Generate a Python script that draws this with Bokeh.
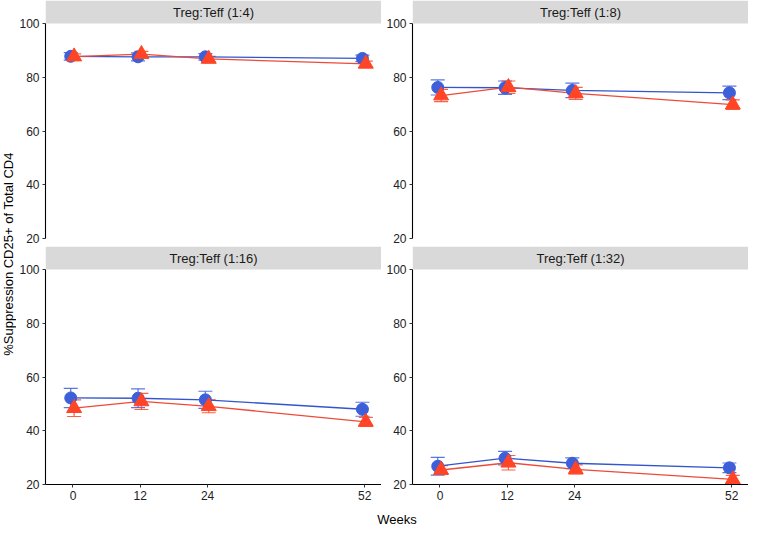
from bokeh.plotting import figure
from bokeh.models import Range1d, ColumnDataSource, Whisker, TeeHead, FixedTicker
from bokeh.layouts import row, column
from bokeh.core.properties import value
from bokeh.embed import file_html
from bokeh.resources import INLINE

# ---------------- data ----------------
weeks = [0, 12, 24, 52]
x_ticks = [0, 12, 24, 52]
y_ticks = [20, 40, 60, 80, 100]
panel_titles = ["Treg:Teff (1:4)", "Treg:Teff (1:8)", "Treg:Teff (1:16)", "Treg:Teff (1:32)"]

blue_mean_1_4 = [87.8, 87.6, 87.6, 87.0]
blue_err_1_4 = [1.4, 1.5, 1.2, 1.2]
red_mean_1_4 = [87.7, 88.6, 86.8, 85.0]
red_err_1_4 = [1.0, 1.0, 1.0, 1.0]

blue_mean_1_8 = [76.2, 76.1, 75.1, 74.2]
blue_err_1_8 = [2.8, 2.5, 2.7, 2.5]
red_mean_1_8 = [73.2, 76.3, 74.0, 69.8]
red_err_1_8 = [2.3, 2.3, 2.2, 1.8]

blue_mean_1_16 = [52.2, 52.1, 51.5, 48.0]
blue_err_1_16 = [3.6, 3.5, 3.2, 2.6]
red_mean_1_16 = [48.4, 50.9, 49.1, 43.3]
red_err_1_16 = [3.1, 3.0, 2.4, 1.7]

blue_mean_1_32 = [26.8, 29.8, 27.9, 26.2]
blue_err_1_32 = [3.3, 2.5, 2.0, 1.8]
red_mean_1_32 = [25.4, 28.1, 25.6, 21.9]
red_err_1_32 = [1.6, 2.7, 1.7, 1.5]

blue_means = [blue_mean_1_4, blue_mean_1_8, blue_mean_1_16, blue_mean_1_32]
blue_errs = [blue_err_1_4, blue_err_1_8, blue_err_1_16, blue_err_1_32]
red_means = [red_mean_1_4, red_mean_1_8, red_mean_1_16, red_mean_1_32]
red_errs = [red_err_1_4, red_err_1_8, red_err_1_16, red_err_1_32]

# ---------------- style ----------------
FONT = "Liberation Sans"
BLUE = "#3D5FD9"
BLUE_LINE = "#3355CC"
RED = "#FF4526"
RED_LINE = "#EE4A3A"
STRIP_FILL = "#D9D9D9"
BLUE_DODGE = -0.4
RED_DODGE = 0.2

FRAME_W = 336
PLOT_H = 215
STRIP_H = 23
GAP = 8
XAXIS_H = 22
XLAB_H = 22
BL_LEFT = 29
BL_RIGHT = 31
YLAB_W = 16

X_START, X_END = -4.9, 55.0
Y_MIN, Y_MAX = 20, 100
Y_TOP = Y_MAX + STRIP_H / PLOT_H * (Y_MAX - Y_MIN)


def make_panel(i, left_border, bottom):
    p = figure(
        frame_width=FRAME_W, frame_height=PLOT_H + STRIP_H,
        x_range=Range1d(X_START, X_END), y_range=Range1d(Y_MIN, Y_TOP),
        output_backend="svg", toolbar_location=None,
        x_axis_location="below" if bottom else None,
        min_border_left=left_border, min_border_right=0, min_border_top=0,
        min_border_bottom=XAXIS_H if bottom else GAP,
    )
    p.outline_line_color = None
    p.background_fill_color = "white"
    p.border_fill_color = "white"
    p.xgrid.visible = False
    p.ygrid.visible = False

    # y axis
    ya = p.yaxis[0]
    ya.ticker = FixedTicker(ticks=y_ticks)
    ya.bounds = (Y_MIN, Y_MAX)
    ya.axis_line_color = "black"
    ya.axis_line_width = 1.1
    ya.major_tick_line_color = "#333333"
    ya.major_tick_out = 3
    ya.major_tick_in = 0
    ya.minor_tick_line_color = None
    ya.major_label_standoff = 3
    ya.major_label_text_font = FONT
    ya.major_label_text_font_size = "12px"
    ya.major_label_text_color = "#222222"

    if bottom:
        xa = p.xaxis[0]
        xa.ticker = FixedTicker(ticks=x_ticks)
        xa.axis_line_color = "black"
        xa.axis_line_width = 1.1
        xa.major_tick_line_color = "#333333"
        xa.major_tick_out = 3
        xa.major_tick_in = 0
        xa.minor_tick_line_color = None
        xa.major_label_standoff = 3
        xa.major_label_text_font = FONT
        xa.major_label_text_font_size = "12px"
        xa.major_label_text_color = "#222222"

    # strip
    p.quad(left=[X_START], right=[X_END], bottom=[Y_MAX], top=[Y_TOP],
           fill_color=STRIP_FILL, line_color=None)
    p.text(x=[(X_START + X_END) / 2], y=[(Y_MAX + Y_TOP) / 2], text=[panel_titles[i]],
           text_align="center", text_baseline="middle",
           text_font=value(FONT), text_font_size="13px", text_color="#1A1A1A")

    bx = [w + BLUE_DODGE for w in weeks]
    rx = [w + RED_DODGE for w in weeks]
    bsrc = ColumnDataSource(dict(
        x=bx, y=blue_means[i],
        upper=[m + e for m, e in zip(blue_means[i], blue_errs[i])],
        lower=[m - e for m, e in zip(blue_means[i], blue_errs[i])]))
    rsrc = ColumnDataSource(dict(
        x=rx, y=red_means[i],
        upper=[m + e for m, e in zip(red_means[i], red_errs[i])],
        lower=[m - e for m, e in zip(red_means[i], red_errs[i])]))

    for src, col in ((bsrc, BLUE), (rsrc, RED)):
        w = Whisker(source=src, base="x", upper="upper", lower="lower",
                    dimension="height", line_color=col, line_width=1.2, line_alpha=0.85,
                    upper_head=TeeHead(size=14, line_color=col, line_width=1.2, line_alpha=0.85),
                    lower_head=TeeHead(size=14, line_color=col, line_width=1.2, line_alpha=0.85))
        p.add_layout(w)

    p.line("x", "y", source=bsrc, line_color=BLUE_LINE, line_width=1.3)
    p.line("x", "y", source=rsrc, line_color=RED_LINE, line_width=1.3)
    p.scatter("x", "y", source=bsrc, marker="circle", size=12,
              fill_color=BLUE, line_color=BLUE)
    p.scatter("x", "y", source=rsrc, marker="triangle", size=15,
              fill_color=RED, line_color=RED)
    return p


p_tl = make_panel(0, BL_LEFT, False)
p_tr = make_panel(1, BL_RIGHT, False)
p_bl = make_panel(2, BL_LEFT, True)
p_br = make_panel(3, BL_RIGHT, True)

TOTAL_H = 2 * (PLOT_H + STRIP_H) + GAP + XAXIS_H + XLAB_H
PANELS_W = BL_LEFT + FRAME_W + BL_RIGHT + FRAME_W

# y axis title
ylab = figure(frame_width=YLAB_W, frame_height=TOTAL_H,
              x_range=Range1d(0, YLAB_W), y_range=Range1d(TOTAL_H, 0),
              output_backend="svg", toolbar_location=None,
              x_axis_location=None, y_axis_location=None,
              min_border=0)
ylab.outline_line_color = None
ylab.xgrid.visible = False
ylab.ygrid.visible = False
ycenter = (STRIP_H + (2 * (PLOT_H + STRIP_H) + GAP)) / 2
ylab.text(x=[YLAB_W / 2], y=[ycenter], text=["%Suppression CD25+ of Total CD4"],
          angle=1.5708, text_align="center", text_baseline="middle",
          text_font=value(FONT), text_font_size="13px", text_color="black")

# x axis title
xlab = figure(frame_width=PANELS_W, frame_height=XLAB_H,
              x_range=Range1d(0, PANELS_W), y_range=Range1d(0, XLAB_H),
              output_backend="svg", toolbar_location=None,
              x_axis_location=None, y_axis_location=None,
              min_border=0)
xlab.outline_line_color = None
xlab.xgrid.visible = False
xlab.ygrid.visible = False
xlab.text(x=[(BL_LEFT + PANELS_W) / 2], y=[XLAB_H / 2 - 2], text=["Weeks"],
          text_align="center", text_baseline="middle",
          text_font=value(FONT), text_font_size="13px", text_color="black")

layout = row(ylab, column(row(p_tl, p_tr), row(p_bl, p_br), xlab))

with open("out.html", "w") as f:
    f.write(file_html(layout, INLINE))
